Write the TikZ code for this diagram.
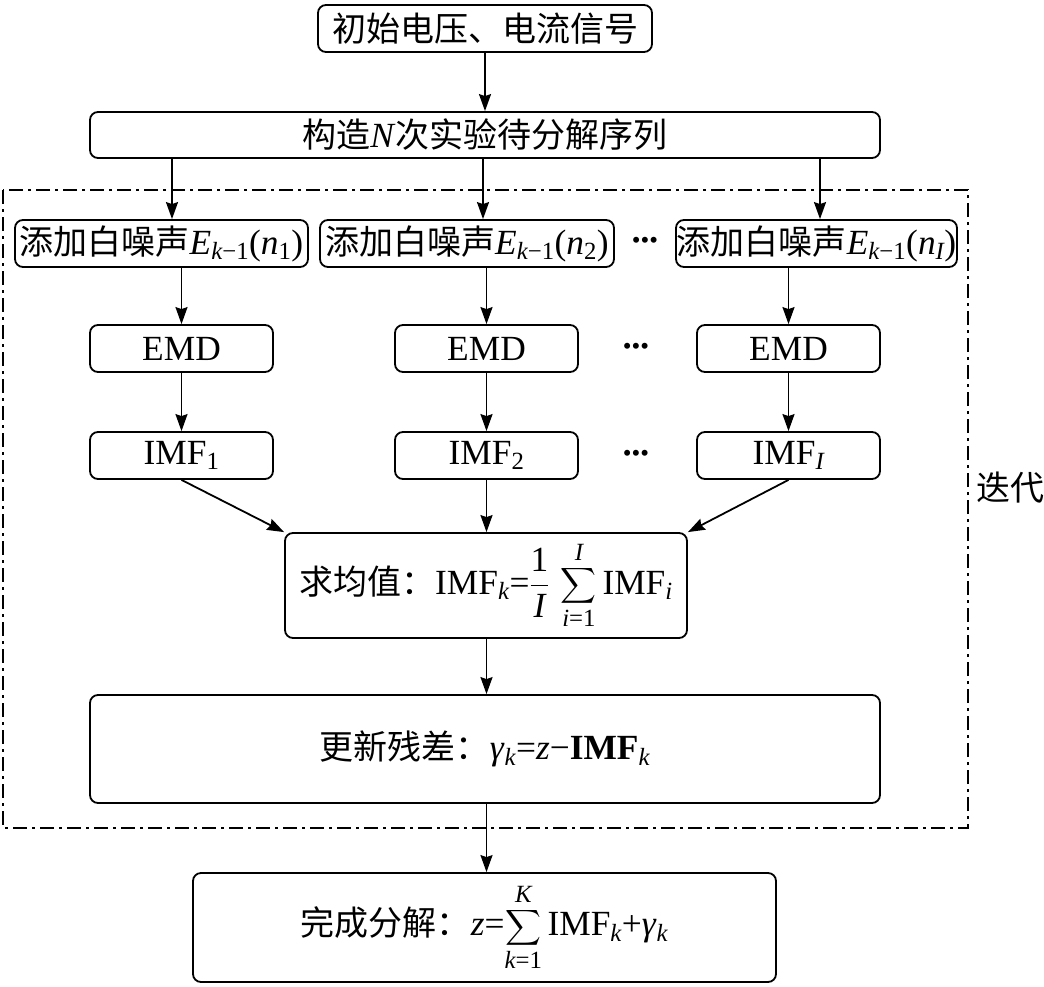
\RequirePackage{fix-cm}
\documentclass[tikz,border=0pt]{standalone}
\usepackage{amsmath}
\usepackage{exscale}
\usepackage{fontspec}
\setmainfont{Liberation Serif}[Scale=1.04]
\newfontfamily\cjk{Noto Sans CJK SC}
\newcommand\tv[1]{\textit{#1}}
\newcommand\dotsrow{{\fontsize{24}{24}\selectfont •••}}
\usetikzlibrary{arrows.meta,calc}
\tikzset{
  box/.style={draw, rounded corners=8pt, line width=1.8pt, inner sep=0pt, align=center},
  arr/.style={-{Stealth[length=17pt,width=12pt,inset=2pt]}, line width=1.8pt},
  frame/.style={line width=1.5pt, dash pattern=on 14pt off 5pt on 3pt off 5pt}
}
\begin{document}
\begin{tikzpicture}[x=1pt,y=-1pt]
\fontsize{34}{40}\selectfont
\useasboundingbox (0,0) rectangle (1044,986);
% frame
\draw[frame] (3,190) rectangle (968,828);
\node (lbl) at (1010,488) {\cjk 迭代};
% nodes
\node[box, minimum width=334pt, minimum height=47pt] (top) at (485,28.5) {\cjk 初始电压、电流信号};
\node[box, minimum width=790pt, minimum height=46pt] (seq) at (485,135) {{\cjk 构造}\tv{N}{\cjk 次实验待分解序列}};
\node[box, minimum width=293pt, minimum height=47pt] (n1) at (161.5,243.5) {{\cjk 添加白噪声}$\tv{E}_{\tv{k}\text{−1}}\text{(}\tv{n}_{\text{1}}\text{)}$};
\node[box, minimum width=294pt, minimum height=47pt] (n2) at (467,243.5) {{\cjk 添加白噪声}$\tv{E}_{\tv{k}\text{−1}}\text{(}\tv{n}_{\text{2}}\text{)}$};
\node[box, minimum width=281pt, minimum height=47pt] (n3) at (816.5,243.5) {{\cjk 添加白噪声}$\tv{E}_{\tv{k}\text{−1}}\text{(}\tv{n}_{\tv{I}}\text{)}$};
\node (d1) at (645,243) {\dotsrow};
\node[box, minimum width=183pt, minimum height=47pt] (e1) at (181.5,348.5) {EMD};
\node[box, minimum width=183pt, minimum height=47pt] (e2) at (486.5,348.5) {EMD};
\node[box, minimum width=183pt, minimum height=47pt] (e3) at (788.5,348.5) {EMD};
\node (d2) at (636,349) {\dotsrow};
\node[box, minimum width=183pt, minimum height=47pt] (i1) at (181.5,455.5) {IMF$_{\text{1}}$};
\node[box, minimum width=183pt, minimum height=47pt] (i2) at (486.5,455.5) {IMF$_{\text{2}}$};
\node[box, minimum width=183pt, minimum height=47pt] (i3) at (788.5,455.5) {IMF$_{\tv{I}}$};
\node (d3) at (636,456) {\dotsrow};
\node[box, minimum width=402pt, minimum height=105pt] (avg) at (486,585.5) {{\cjk 求均值：}IMF$_{\tv{k}}$=$\displaystyle\frac{\text{1}}{\tv{I}}\,\sum_{\tv{i}\text{=1}}^{\tv{I}}\,$IMF$_{\tv{i}}$};
\node[box, minimum width=790pt, minimum height=108pt] (upd) at (485,749) {{\cjk 更新残差：}\tv{γ}$_{\tv{k}}$=\tv{z}−\textbf{IMF}$_{\tv{k}}$};
\node[box, minimum width=583pt, minimum height=109pt] (fin) at (484.5,927.5) {{\cjk 完成分解：}\tv{z}=$\displaystyle\sum_{\tv{k}\text{=1}}^{\tv{K}}\,$IMF$_{\tv{k}}$+\tv{γ}$_{\tv{k}}$};
% helper coordinates
\coordinate (a1) at ($(n1.north)+(10.5,0)$);
\coordinate (a2) at ($(n2.north)+(16,0)$);
\coordinate (a3) at ($(n3.north)+(3.5,0)$);
% connectors
\draw[arr] (top.south) -- (seq.north);
\draw[arr] (a1 |- seq.south) -- (a1);
\draw[arr] (a2 |- seq.south) -- (a2);
\draw[arr] (a3 |- seq.south) -- (a3);
\draw[arr] (n1.south -| e1.north) -- (e1.north);
\draw[arr] (n2.south -| e2.north) -- (e2.north);
\draw[arr] (n3.south -| e3.north) -- (e3.north);
\draw[arr] (e1) -- (i1);
\draw[arr] (e2) -- (i2);
\draw[arr] (e3) -- (i3);
\draw[arr] (i1.south) -- (avg.north west);
\draw[arr] (i2.south) -- (i2.south |- avg.north);
\draw[arr] (i3.south) -- (avg.north east);
\draw[arr] (avg.south -| i2.south) -- (upd.north -| i2.south);
\draw[arr] (upd.south -| i2.south) -- (fin.north -| i2.south);
\end{tikzpicture}
\end{document}
